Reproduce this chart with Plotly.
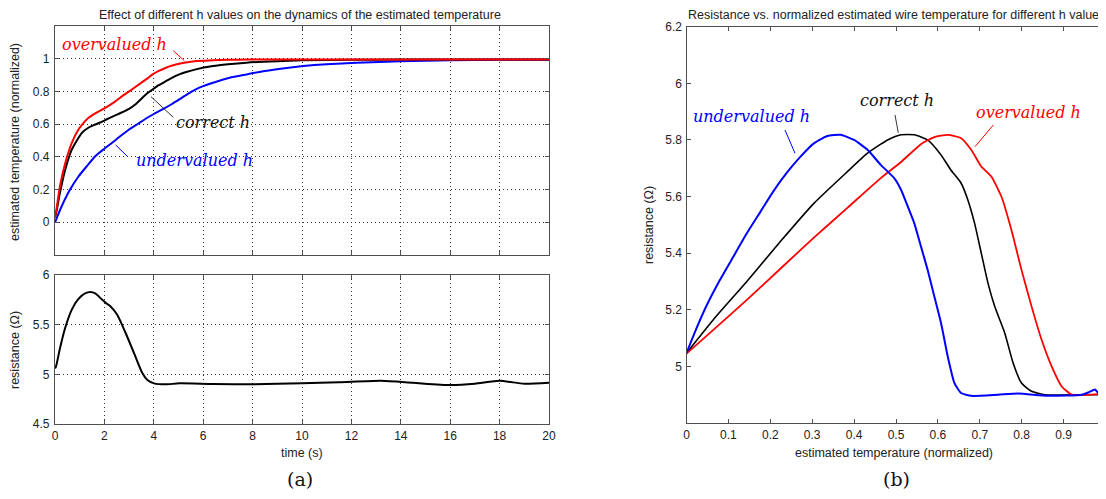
import plotly.graph_objects as go

W, H = 1106, 499
OX, OY = 8, 8  # page body margin of the browser

# ---------------- data ----------------
# (a) top: estimated temperature (normalized) vs time (s)
t_over = [0, 0.05, 0.2, 0.41, 0.68, 0.95, 1.2, 1.36, 1.7, 2.04, 2.4, 2.72, 3.05, 3.4, 3.7, 3.95, 4.2, 4.49, 4.75, 5.03, 5.35, 5.7, 6.4, 7.0, 7.75, 9, 12, 16, 20]
y_over = [0.03, 0.07, 0.22, 0.36, 0.486, 0.567, 0.615, 0.639, 0.672, 0.70, 0.735, 0.771, 0.805, 0.843, 0.875, 0.904, 0.925, 0.945, 0.958, 0.969, 0.978, 0.986, 0.99, 0.993, 0.995, 0.995, 0.995, 0.995, 0.995]

t_corr = [0, 0.05, 0.2, 0.41, 0.68, 1.09, 1.35, 1.63, 2.0, 2.31, 2.65, 3.0, 3.25, 3.53, 3.75, 3.95, 4.2, 4.49, 4.75, 5.03, 5.35, 5.7, 6.4, 7.0, 7.75, 9, 10, 12, 14, 16, 20]
y_corr = [0.03, 0.06, 0.18, 0.32, 0.445, 0.547, 0.578, 0.598, 0.622, 0.645, 0.668, 0.694, 0.72, 0.76, 0.79, 0.812, 0.838, 0.863, 0.885, 0.904, 0.92, 0.935, 0.955, 0.966, 0.976, 0.985, 0.99, 0.993, 0.995, 0.995, 0.995]

t_under = [0, 0.27, 0.61, 0.95, 1.3, 1.63, 2.0, 2.31, 2.65, 3.0, 3.35, 3.67, 4.0, 4.35, 4.7, 5.03, 5.35, 5.7, 6.0, 6.4, 7.07, 7.75, 8.5, 9.3, 10.06, 11, 12.2, 14, 16, 18, 20]
y_under = [0.0, 0.098, 0.2, 0.28, 0.345, 0.404, 0.45, 0.486, 0.527, 0.567, 0.601, 0.633, 0.662, 0.69, 0.72, 0.751, 0.782, 0.812, 0.832, 0.853, 0.884, 0.904, 0.925, 0.942, 0.955, 0.966, 0.975, 0.984, 0.99, 0.993, 0.994]

# (a) bottom: resistance (Ohm) vs time (s)
t_res = [0, 0.04, 0.2, 0.41, 0.68, 0.95, 1.22, 1.43, 1.63, 1.9, 2.1, 2.24, 2.52, 2.86, 3.2, 3.54, 3.74, 4.01, 4.49, 5.03, 6.4, 8.0, 10.0, 11.5, 13.2, 14.5, 16.0, 17.0, 18.0, 19.0, 20.0]
r_res = [5.06, 5.078, 5.26, 5.466, 5.652, 5.76, 5.814, 5.828, 5.814, 5.753, 5.71, 5.686, 5.60, 5.416, 5.213, 5.01, 4.943, 4.909, 4.899, 4.909, 4.902, 4.9, 4.91, 4.92, 4.935, 4.915, 4.892, 4.905, 4.935, 4.905, 4.915]

# (b): resistance vs normalized estimated temperature
T_under = [0.0, 0.024, 0.048, 0.08, 0.112, 0.144, 0.176, 0.208, 0.24, 0.272, 0.304, 0.336, 0.368, 0.4, 0.432, 0.4636, 0.4957, 0.512, 0.528, 0.5435, 0.5595, 0.5755, 0.5915, 0.6075, 0.6235, 0.6395, 0.6555, 0.6795, 0.7435, 0.7915, 0.8635, 0.9435, 0.962, 0.975, 0.984, 0.991, 0.9995]
R_under = [5.047, 5.135, 5.215, 5.306, 5.388, 5.47, 5.545, 5.62, 5.685, 5.741, 5.788, 5.814, 5.818, 5.80, 5.765, 5.712, 5.665, 5.624, 5.565, 5.506, 5.424, 5.341, 5.247, 5.153, 5.035, 4.941, 4.906, 4.896, 4.90, 4.904, 4.896, 4.90, 4.91, 4.918, 4.905, 4.926, 4.90]

T_corr = [0.0, 0.064, 0.144, 0.224, 0.304, 0.384, 0.432, 0.4636, 0.48, 0.512, 0.5435, 0.5755, 0.6075, 0.631, 0.6555, 0.6715, 0.6875, 0.7035, 0.7195, 0.7355, 0.7595, 0.7795, 0.7995, 0.8235, 0.8555, 0.9435, 1.0]
R_corr = [5.047, 5.165, 5.30, 5.441, 5.576, 5.688, 5.753, 5.785, 5.80, 5.818, 5.818, 5.80, 5.747, 5.694, 5.647, 5.588, 5.506, 5.40, 5.294, 5.212, 5.118, 5.012, 4.941, 4.912, 4.90, 4.90, 4.90]

T_over = [0.0, 0.064, 0.144, 0.224, 0.304, 0.384, 0.4636, 0.512, 0.5595, 0.5915, 0.6235, 0.6555, 0.6795, 0.7035, 0.7275, 0.7515, 0.7755, 0.7995, 0.8235, 0.8475, 0.8715, 0.8955, 0.9195, 0.959, 1.0]
R_over = [5.045, 5.129, 5.235, 5.345, 5.455, 5.56, 5.665, 5.722, 5.785, 5.81, 5.818, 5.806, 5.765, 5.706, 5.671, 5.60, 5.482, 5.341, 5.212, 5.094, 5.0, 4.929, 4.90, 4.90, 4.904]

# tick labels
time_ticks = [0, 2, 4, 6, 8, 10, 12, 14, 16, 18, 20]
temp_ticks = [0, 0.2, 0.4, 0.6, 0.8, 1]
temp_labels = ["0", "0.2", "0.4", "0.6", "0.8", "1"]
res_ticks_a = [4.5, 5, 5.5, 6]
res_labels_a = ["4.5", "5", "5.5", "6"]
res_ticks_b = [5, 5.2, 5.4, 5.6, 5.8, 6, 6.2]
res_labels_b = ["5", "5.2", "5.4", "5.6", "5.8", "6", "6.2"]
norm_ticks = [0, 0.1, 0.2, 0.3, 0.4, 0.5, 0.6, 0.7, 0.8, 0.9, 1]
norm_labels = ["0", "0.1", "0.2", "0.3", "0.4", "0.5", "0.6", "0.7", "0.8", "0.9", "1"]

RED, BLUE, BLACK = "#ff0000", "#0000ff", "#000000"


def px(x, y):
    """screen pixel -> paper fraction (figure sits at the page's body margin)"""
    return (x - OX) / W, 1 - (y - OY) / H


def dom_x(a, b):
    return [(a - OX) / W, (b - OX) / W]


def dom_y(top, bottom):
    return [1 - (bottom - OY) / H, 1 - (top - OY) / H]


fig = go.Figure()
fig.add_trace(go.Scatter(x=t_under, y=y_under, mode="lines", line=dict(color=BLUE, width=2, shape="spline", smoothing=0.6), xaxis="x", yaxis="y"))
fig.add_trace(go.Scatter(x=t_corr, y=y_corr, mode="lines", line=dict(color=BLACK, width=2, shape="spline", smoothing=0.6), xaxis="x", yaxis="y"))
fig.add_trace(go.Scatter(x=t_over, y=y_over, mode="lines", line=dict(color=RED, width=2, shape="spline", smoothing=0.6), xaxis="x", yaxis="y"))
fig.add_trace(go.Scatter(x=t_res, y=r_res, mode="lines", line=dict(color=BLACK, width=2, shape="spline", smoothing=0.6), xaxis="x2", yaxis="y2"))
fig.add_trace(go.Scatter(x=T_corr, y=R_corr, mode="lines", line=dict(color=BLACK, width=1.6, shape="spline", smoothing=0.5), xaxis="x3", yaxis="y3"))
fig.add_trace(go.Scatter(x=T_over, y=R_over, mode="lines", line=dict(color=RED, width=1.8, shape="spline", smoothing=0.5), xaxis="x3", yaxis="y3"))
fig.add_trace(go.Scatter(x=T_under, y=R_under, mode="lines", line=dict(color=BLUE, width=2, shape="spline", smoothing=0.5), xaxis="x3", yaxis="y3"))

AX = "#505050"
TXT = "#222222"
TICKFONT = dict(family="Liberation Sans, Arial, sans-serif", size=12, color=TXT)
common = dict(showline=True, linecolor=AX, linewidth=1.2, mirror="ticks", ticks="inside",
              ticklen=4, tickcolor=AX, zeroline=False, tickfont=TICKFONT, automargin=False)
grid = dict(showgrid=True, gridcolor="#333333", gridwidth=1, griddash="1px,3px")

left_x = dom_x(55, 549)
fig.update_layout(
    width=W, height=H, autosize=False,
    margin=dict(l=0, r=0, t=0, b=0, pad=0, autoexpand=False),
    paper_bgcolor="white", plot_bgcolor="white", showlegend=False,
    xaxis=dict(domain=left_x, range=[0, 20], tickvals=time_ticks, showticklabels=False, anchor="y", **common, **grid),
    yaxis=dict(domain=dom_y(26, 255), range=[-0.2, 1.2], tickvals=temp_ticks, ticktext=temp_labels,
               anchor="x", ticklabelstandoff=2, **common, **grid),
    xaxis2=dict(domain=left_x, range=[0, 20], tickvals=time_ticks, anchor="y2", **common, **grid),
    yaxis2=dict(domain=dom_y(275, 424), range=[4.5, 6], tickvals=res_ticks_a, ticktext=res_labels_a,
                anchor="x2", ticklabelstandoff=2, **common, **grid),
    xaxis3=dict(domain=dom_x(686.5, 1105.5), range=[0, 1], tickvals=norm_ticks, ticktext=norm_labels,
                anchor="y3", showgrid=False, **common),
    yaxis3=dict(domain=dom_y(26.7, 423), range=[4.8, 6.2], tickvals=res_ticks_b, ticktext=res_labels_b,
                anchor="x3", showgrid=False, ticklabelstandoff=1, **common),
)

SANS = "Liberation Sans, Arial, sans-serif"
ann = []


def text(x, y, s, size=12, color=TXT, family=SANS, angle=0, style="normal", xanchor="center"):
    xx, yy = px(x, y)
    ann.append(dict(x=xx, y=yy, xref="paper", yref="paper", text=s, showarrow=False,
                    xanchor=xanchor, yanchor="middle", textangle=angle,
                    font=dict(family=family, size=size, color=color, style=style)))


# titles
text(300, 15, "Effect of different h values on the dynamics of the estimated temperature", size=12.5)
text(896, 15, "Resistance vs. normalized estimated wire temperature for different h values", size=12.5)
# axis titles
text(15, 142, "estimated temperature (normalized)", size=12.5, angle=-90)
text(15, 350, "resistance (\u03a9)", size=12.5, angle=-90)
text(302, 453, "time (s)", size=12.5)
text(649, 225, "resistance (\u03a9)", size=12.5, angle=-90)
text(894, 453, "estimated temperature (normalized)", size=12.5)
# panel labels
SERIF = "DejaVu Serif, Liberation Serif, serif"
text(300, 479, "(a)", size=19, color="#111111", family=SERIF)
text(896, 479, "(b)", size=19, color="#111111", family=SERIF)
# curve labels
text(114, 45, "overvalued h", size=16, color=RED, family=SERIF, style="italic")
text(213, 122, "correct h", size=16, color="#111111", family=SERIF, style="italic")
text(194, 160, "undervalued h", size=16, color=BLUE, family=SERIF, style="italic")
text(751, 116, "undervalued h", size=16, color=BLUE, family=SERIF, style="italic")
text(897, 101, "correct h", size=16, color="#111111", family=SERIF, style="italic")
text(1028, 112, "overvalued h", size=16, color=RED, family=SERIF, style="italic")
fig.update_layout(annotations=ann)

# leader lines
leaders = [
    ((173.3, 50.7), (184.3, 60.7), RED),
    ((173.3, 117.3), (151, 96.7), "#333333"),
    ((127.7, 156.7), (115.7, 145), BLUE),
    ((785, 130), (795, 153.3), BLUE),
    ((895, 115), (898.3, 132.7), "#333333"),
    ((993.3, 125), (975, 146.7), RED),
]
for (x0, y0), (x1, y1), c in leaders:
    a0 = px(x0, y0)
    a1 = px(x1, y1)
    fig.add_shape(type="line", xref="paper", yref="paper", x0=a0[0], y0=a0[1], x1=a1[0], y1=a1[1],
                  line=dict(color=c, width=1))

fig.write_html("out.html")
